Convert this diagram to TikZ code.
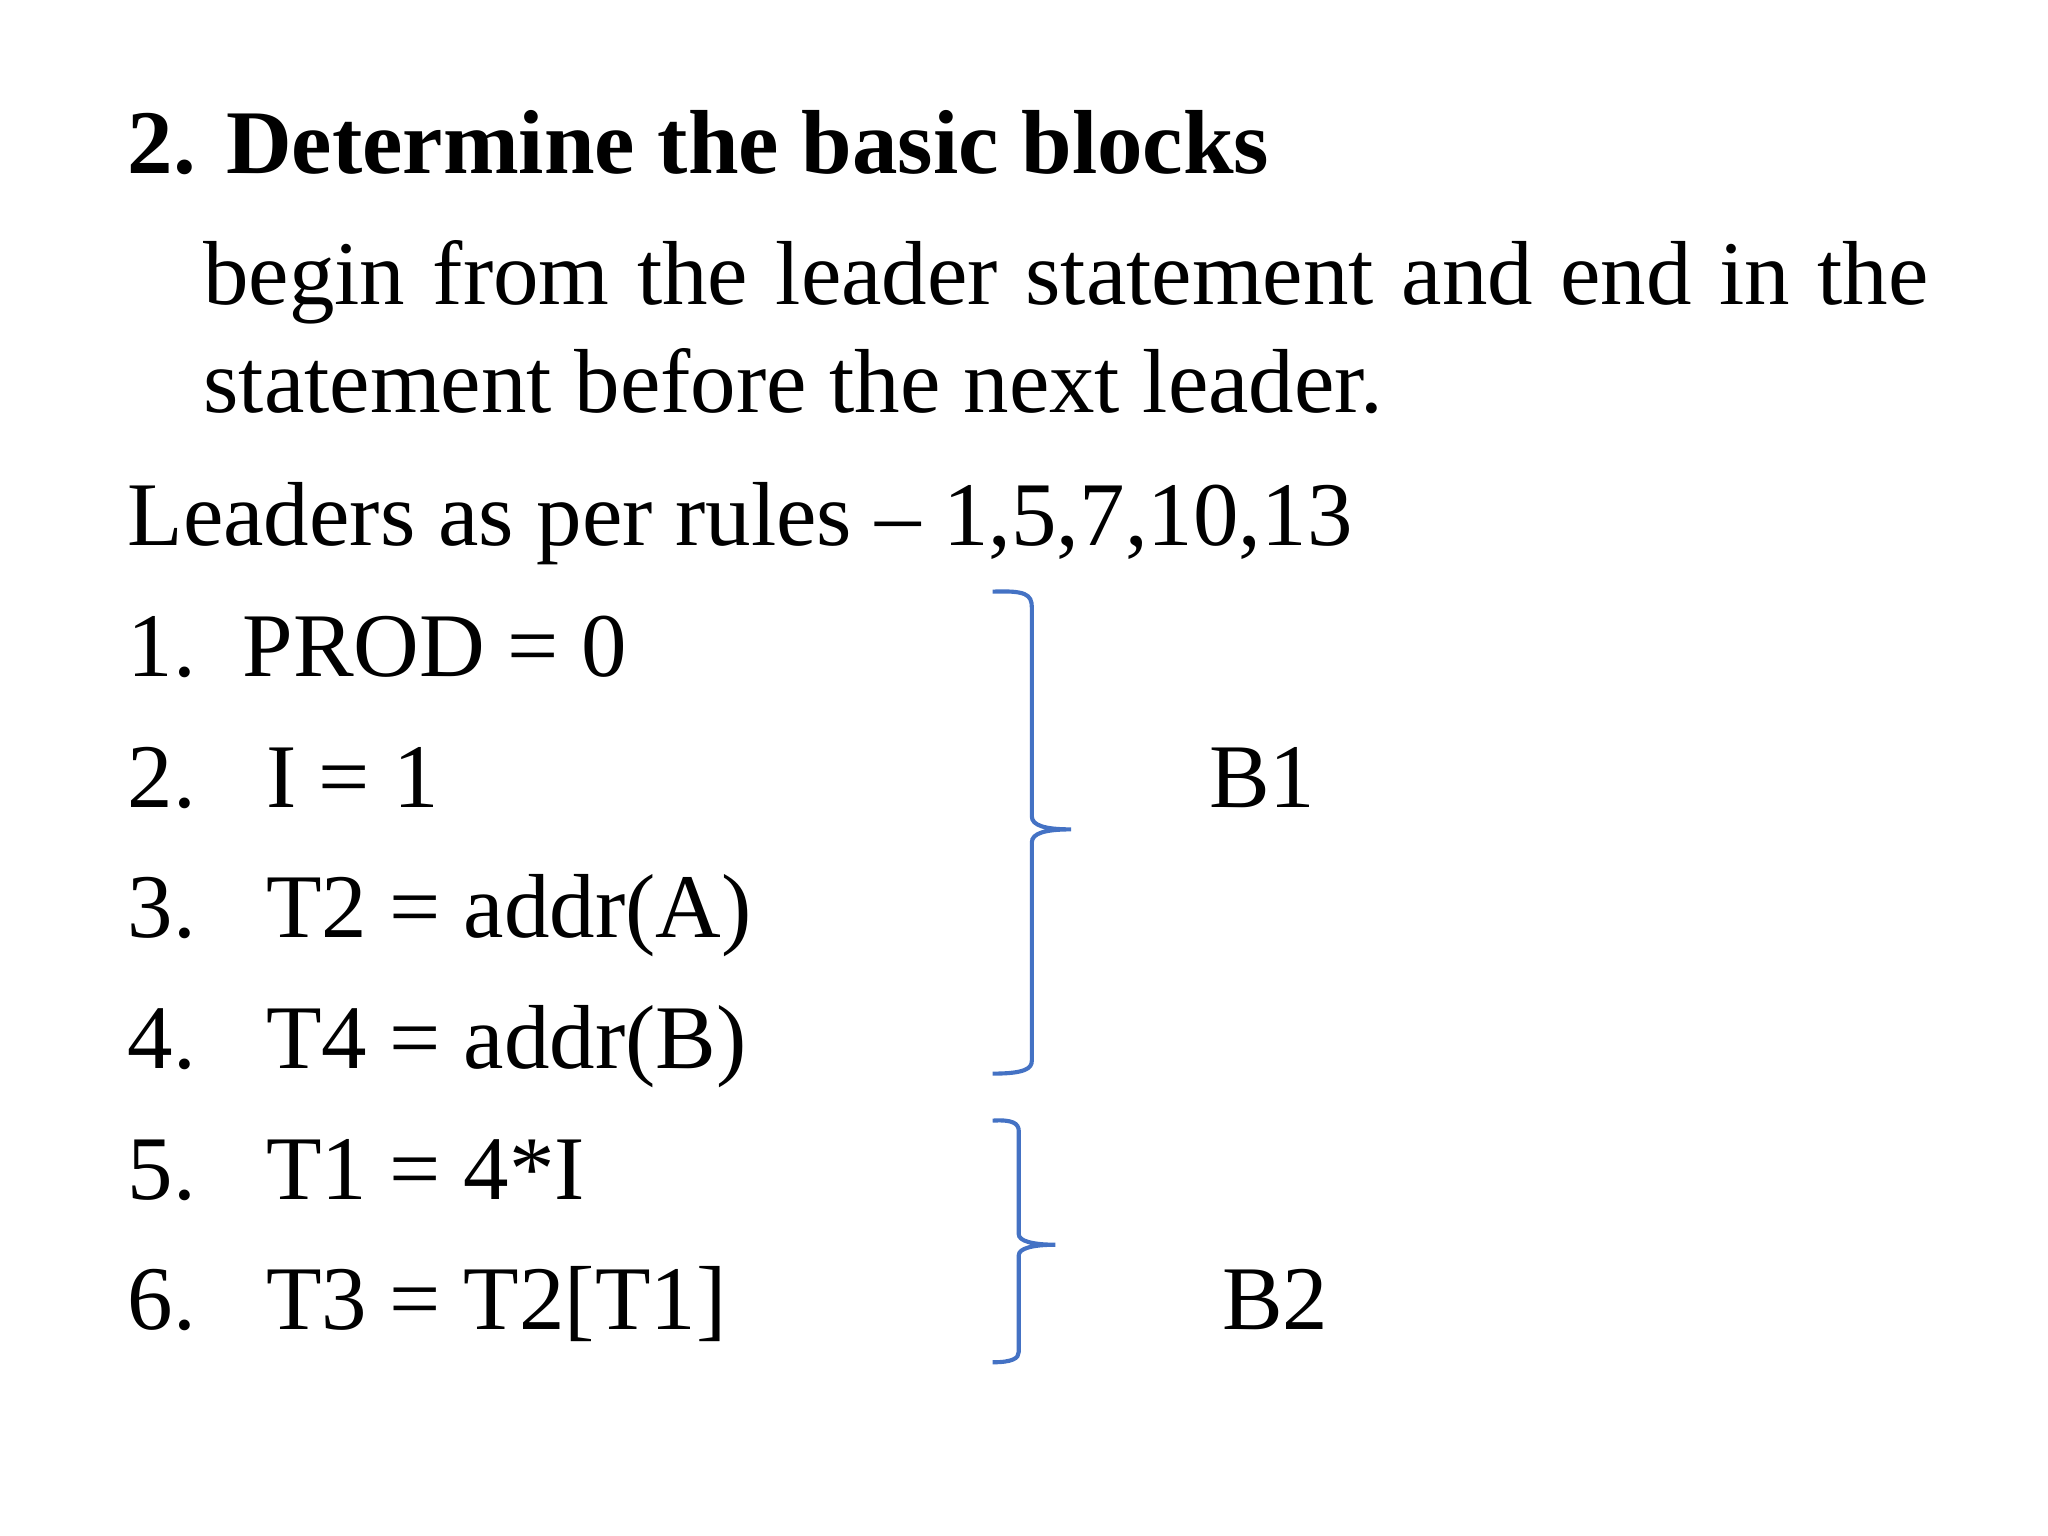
\documentclass[tikz,border=0pt]{standalone}
\usepackage{fontspec}
\setmainfont{Liberation Serif}
\definecolor{bl}{HTML}{4472C4}
\begin{document}
\begin{tikzpicture}[x=0.01cm,y=-0.01cm,
  t/.style={anchor=base west,inner sep=0pt,font=\fontsize{19.8}{24}\selectfont},
  br/.style={draw=bl,line width=0.9pt}]
\useasboundingbox (0,0) rectangle (1568,1176);
\node[t,font=\fontsize{19.8}{24}\selectfont\bfseries] (title) at (97,133) {2. Determine the basic blocks};
\node[t] (l1) at (155,233) {\makebox[13.2cm][s]{begin from the leader statement and end in the}};
\node[t] (l2) at (155,316) {statement before the next leader.};
\node[t] (ld) at (97,418) {Leaders as per rules -- 1,5,7,10,13};
\foreach \n/\y in {1/518,2/618,3/718,4/818,5/918,6/1018}{\node[t] (n\n) at (97,\y) {\n.};}
\node[t] (s1) at (185,518) {PROD = 0};
\node[t] (s2) at (203,618) {I = 1};
\node[t] (s3) at (203,718) {T2 = addr(A)};
\node[t] (s4) at (203,818) {T4 = addr(B)};
\node[t] (s5) at (203,918) {T1 = 4*I};
\node[t] (s6) at (203,1018) {T3 = T2[T1]};
\node[t] (b1) at (925,618) {B1};
\node[t] (b2) at (935,1018) {B2};
\draw[br] (760,453) .. controls (785,452) and (790,455) .. (790,465) -- (790,625) .. controls (790,632) and (800,635) .. (820,635) .. controls (800,635) and (790,638) .. (790,645) -- (790,812) .. controls (790,818) and (785,822) .. (760,822);
\draw[br] (760,858) .. controls (775,857) and (780,860) .. (780,866) -- (780,945) .. controls (780,950) and (790,953) .. (808,953) .. controls (790,953) and (780,956) .. (780,961) -- (780,1035) .. controls (780,1040) and (775,1043) .. (760,1043);
\end{tikzpicture}
\end{document}
